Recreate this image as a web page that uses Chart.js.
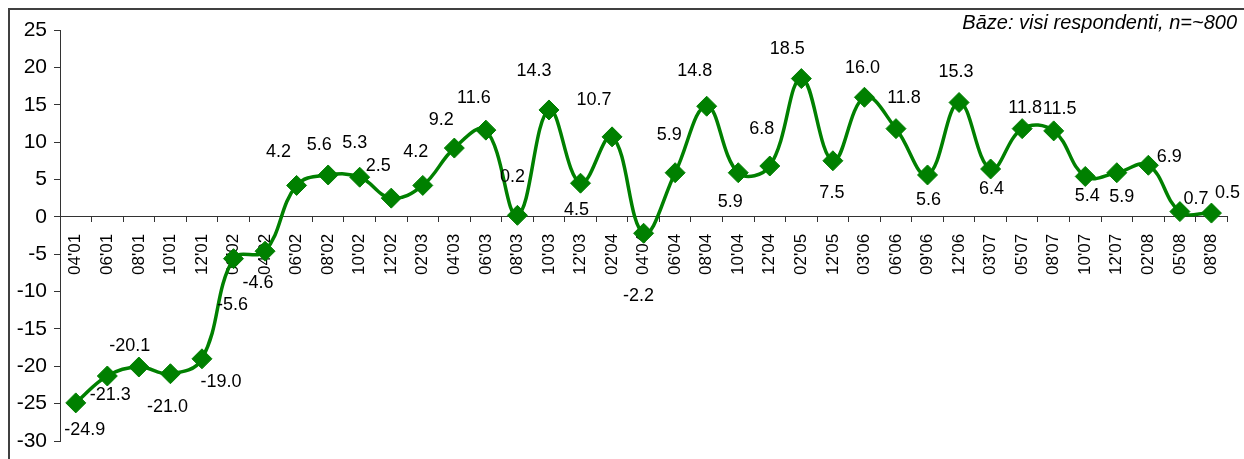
<!DOCTYPE html>
<html>
<head>
<meta charset="utf-8">
<script src="https://cdn.jsdelivr.net/npm/chart.js@4.4.1/dist/chart.umd.min.js"></script>
<style>
  html, body { margin: 0; padding: 0; background: #fff; }
  #wrap { position: relative; width: 1244px; height: 459px; }
</style>
</head>
<body>
<div id="wrap"><canvas id="chart" width="1244" height="459"></canvas></div>
<script>
// ── Data ──
const categories = [
  "04'01", "06'01", "08'01", "10'01", "12'01", "02'02", "04'02", "06'02", "08'02", "10'02",
  "12'02", "02'03", "04'03", "06'03", "08'03", "10'03", "12'03", "02'04", "04'04", "06'04",
  "08'04", "10'04", "12'04", "02'05", "12'05", "03'06", "06'06", "09'06", "12'06", "03'07",
  "05'07", "08'07", "10'07", "12'07", "02'08", "05'08", "08'08"
];
const values = [
  -24.9, -21.3, -20.1, -21.0, -19.0, -5.6, -4.6, 4.2, 5.6, 5.3,
  2.5, 4.2, 9.2, 11.6, 0.2, 14.3, 4.5, 10.7, -2.2, 5.9,
  14.8, 5.9, 6.8, 18.5, 7.5, 16.0, 11.8, 5.6, 15.3, 6.4,
  11.8, 11.5, 5.4, 5.9, 6.9, 0.7, 0.5
];
const yMin = -30, yMax = 25, yStep = 5;
const baseNote = 'Bāze: visi respondenti, n=~800';

// ── Label placement (pixel offsets from each point, as placed in the original) ──
const labelOffsets = [
  [9, 27], [3, 19], [-9, -21], [-3, 33], [19, 23], [-1, 46], [-7, 32], [-18, -33], [-9, -30], [-5, -34],
  [-13, -32], [-7, -33], [-13, -28], [-12, -32], [-5, -38], [-15, -39], [-4, 27], [-18, -37], [-5, 63], [-6, -38],
  [-12, -35], [-8, 29], [-8, -37], [-14, -30], [-1, 32], [-2, -29], [8, -31], [1, 25], [-3, -30], [1, 20],
  [3, -21], [6, -22], [2, 20], [5, 24], [21, -8], [16, -13], [16, -20]
];

const green = '#008000';
const font = "'Liberation Sans', Arial, sans-serif";

const framePlugin = {
  id: 'frame',
  beforeDraw(chart) {
    const ctx = chart.ctx;
    ctx.save();
    ctx.strokeStyle = '#404040';
    ctx.lineWidth = 2;
    ctx.beginPath();
    ctx.moveTo(9, chart.height + 2);
    ctx.lineTo(9, 9);
    ctx.lineTo(chart.width + 2, 9);
    ctx.stroke();
    ctx.restore();
  },
  afterDraw(chart) {
    const ctx = chart.ctx;
    ctx.save();
    ctx.fillStyle = '#000';
    ctx.font = 'italic 20px ' + font;
    ctx.textAlign = 'right';
    ctx.textBaseline = 'alphabetic';
    ctx.fillText(baseNote, 1237, 29);
    ctx.restore();
  }
};

const valueLabels = {
  id: 'valueLabels',
  afterDatasetsDraw(chart) {
    const ctx = chart.ctx;
    const meta = chart.getDatasetMeta(0);
    ctx.save();
    ctx.fillStyle = '#000';
    ctx.font = '18px ' + font;
    ctx.textAlign = 'center';
    ctx.textBaseline = 'middle';
    meta.data.forEach((pt, i) => {
      const off = labelOffsets[i] || [0, -25];
      ctx.fillText(values[i].toFixed(1), pt.x + off[0], pt.y + off[1]);
    });
    ctx.restore();
  }
};

new Chart(document.getElementById('chart'), {
  type: 'line',
  data: {
    labels: categories,
    datasets: [{
      data: values,
      borderColor: green,
      borderWidth: 3.5,
      tension: 0.4,
      pointStyle: 'rectRot',
      pointRadius: 10,
      pointBackgroundColor: green,
      pointBorderColor: green,
      pointBorderWidth: 1
    }]
  },
  options: {
    responsive: false,
    animation: false,
    layout: { autoPadding: false, padding: { left: 0, top: 30, right: 12, bottom: 18 } },
    plugins: { legend: { display: false }, tooltip: { enabled: false } },
    scales: {
      x: {
        position: { y: 0 },
        offset: true,
        grid: { drawOnChartArea: false, drawTicks: true, tickLength: 5, color: '#333', offset: true },
        border: { display: true, color: '#333', width: 1 },
        ticks: {
          autoSkip: false, minRotation: 90, maxRotation: 90,
          color: '#000', padding: 12, font: { family: font, size: 17 }
        }
      },
      y: {
        min: yMin, max: yMax,
        afterFit: s => { s.width = 60; },
        grid: { drawOnChartArea: false, drawTicks: true, tickLength: 6, color: '#333' },
        border: { display: true, color: '#333', width: 1 },
        // label padding adds to the scale's end padding, so keep line height tight
        ticks: { stepSize: yStep, color: '#000', padding: 7, font: { family: font, size: 21, lineHeight: 1.0 } }
      }
    }
  },
  plugins: [framePlugin, valueLabels]
});
</script>
</body>
</html>
